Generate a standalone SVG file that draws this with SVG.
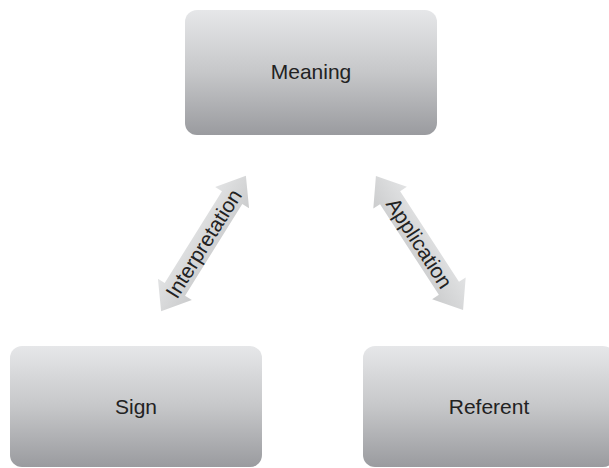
<svg xmlns="http://www.w3.org/2000/svg" width="609" height="468" viewBox="0 0 609 468">
  <defs>
    <linearGradient id="boxFill" x1="0" y1="0" x2="0" y2="1">
      <stop offset="0" stop-color="#e6e7e9"/>
      <stop offset="0.5" stop-color="#c6c7c9"/>
      <stop offset="1" stop-color="#9a9b9f"/>
    </linearGradient>
    <linearGradient id="arrowFill" x1="0" y1="0" x2="0" y2="1">
      <stop offset="0" stop-color="#e2e3e4"/>
      <stop offset="1" stop-color="#cbcccd"/>
    </linearGradient>
    <!-- double-headed arrow along the x axis, centred on the origin -->
    <path id="dblArrow" d="M -80 0 L -54 -20 L -54 -12 L 54 -12 L 54 -20 L 80 0 L 54 20 L 54 12 L -54 12 L -54 20 Z"/>
  </defs>
  <style>
    .box { fill: url(#boxFill); }
    .label { font-family: "Liberation Sans", Arial, sans-serif; font-size: 21px; fill: #222; text-anchor: middle; }
    .arrow { fill: url(#arrowFill); }
  </style>

  <rect width="609" height="468" fill="#ffffff"/>

  <g id="connectors">
    <g id="interpretation" transform="translate(203.5 243.5) rotate(-58)">
      <use href="#dblArrow" class="arrow"/>
      <text class="label" x="0" y="7.5">Interpretation</text>
    </g>
    <g id="application" transform="translate(419.5 243) rotate(57)">
      <use href="#dblArrow" class="arrow"/>
      <text class="label" x="0" y="7.5">Application</text>
    </g>
  </g>

  <g id="meaning">
    <rect class="box" x="185" y="10" width="252" height="125" rx="12"/>
    <text class="label" x="311" y="79">Meaning</text>
  </g>

  <g id="sign">
    <rect class="box" x="10" y="346" width="252" height="121" rx="12"/>
    <text class="label" x="136" y="414">Sign</text>
  </g>

  <g id="referent">
    <rect class="box" x="363" y="346" width="252" height="121" rx="12"/>
    <text class="label" x="489" y="414">Referent</text>
  </g>
</svg>
